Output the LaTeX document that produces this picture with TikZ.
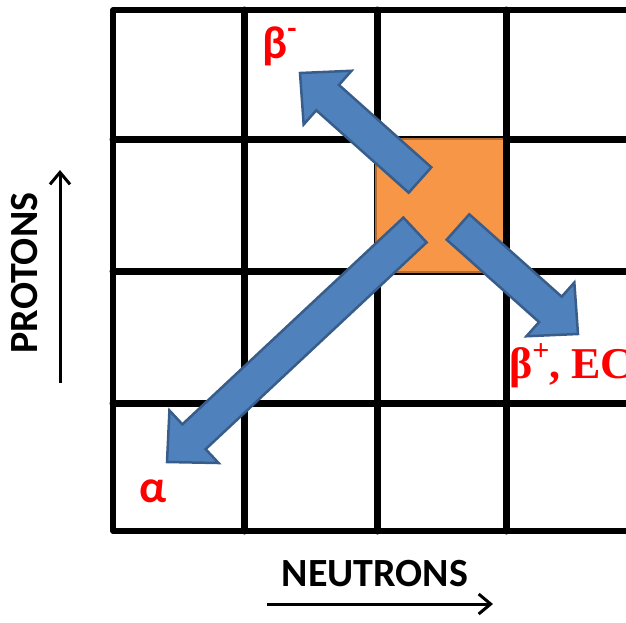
\documentclass[tikz,border=0pt]{standalone}
\usepackage{fontspec}
\setmainfont{Carlito}
\newfontfamily\timesbold{Liberation Serif}[BoldFont={* Bold}]
\usetikzlibrary{calc,arrows.meta}
\definecolor{arrowblue}{HTML}{4F81BD}
\definecolor{arrowedge}{HTML}{385D8A}
\definecolor{parentorange}{HTML}{F79646}
\definecolor{parentedge}{HTML}{B66D31}
\definecolor{labelred}{HTML}{FF0000}
\newcommand\blockarrow[2]{%
  \coordinate (#1h) at ($(#2)!37pt!(#1)$);
  \filldraw[decayarrow]
    ($(#1)!17pt!90:(#2)$) -- ($(#1h)!17pt!90:(#2)$) -- ($(#1h)!36pt!90:(#2)$)
    -- (#2) -- ($(#1h)!36pt!-90:(#2)$) -- ($(#1h)!17pt!-90:(#2)$)
    -- ($(#1)!17pt!-90:(#2)$) -- cycle;
}
\tikzset{
  gridouter/.style={line width=5.5pt, line cap=round, line join=round},
  gridinner/.style={line width=7pt, line cap=round},
  parentbox/.style={fill=parentorange, draw=parentedge, line width=1.5pt},
  decayarrow/.style={fill=arrowblue, draw=arrowedge, line width=2.5pt, line join=miter},
  decaylabel/.style={text=labelred, font=\fontsize{46}{54}\selectfont\bfseries, inner sep=0pt},
  axislabel/.style={font=\fontsize{40}{48}\selectfont\bfseries, inner sep=0pt},
  axisarrow/.style={line width=3pt, -{Straight Barb[length=12pt,width=20pt,line width=3pt]}},
}
\begin{document}
\begin{tikzpicture}[x=1pt,y=-1pt]
\useasboundingbox (0,0) rectangle (626,622);
% grid
\draw[gridouter] (626,10) -- (113,10) -- (113,531) -- (626,531);
\foreach \xx in {244,377,506} \draw[gridinner] (\xx,10) -- (\xx,531);
\foreach \yy in {139,271,403} \draw[gridinner] (113,\yy) -- (626,\yy);
% parent nucleus
\node[parentbox, minimum width=128pt, minimum height=133pt, inner sep=0pt, anchor=north west] (parent) at (375,138) {};
\draw[gridinner, line cap=butt] (506,135) -- (506,275);
% decay arrows
\coordinate (bmT) at (420,180);
\coordinate (bmP) at (300,73);
\coordinate (bpT) at (458,227);
\coordinate (bpP) at (578,334);
\coordinate (alT) at (415,230);
\coordinate (alP) at (167,462);
\blockarrow{bmT}{bmP}
\blockarrow{bpT}{bpP}
\blockarrow{alT}{alP}
% labels
\node[decaylabel, anchor=base west] (betaminus) at (262,58) {β\raisebox{0.42em}{\fontsize{30}{30}\selectfont -}};
\node[decaylabel, anchor=base west] (alpha) at (139,502) {α};
\node[decaylabel, font=\fontsize{44}{52}\selectfont\timesbold\bfseries, anchor=base west] (betaplus) at (509,378) {β\raisebox{0.4em}{\fontsize{30}{30}\selectfont +}, EC};
% axes
\node[axislabel, rotate=90] (protons) at (25,273) {PROTONS};
\node[axislabel] (neutrons) at (375,574) {NEUTRONS};
\coordinate (pA) at (60,383);
\coordinate (pB) at (60,170);
\coordinate (nA) at (267,604);
\coordinate (nB) at (493,604);
\draw[axisarrow] (pA) -- (pB);
\draw[axisarrow] (nA) -- (nB);
\end{tikzpicture}
\end{document}
